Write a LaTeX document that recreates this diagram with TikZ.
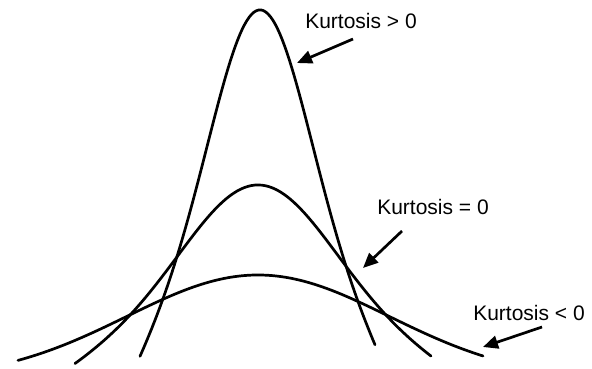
\documentclass[tikz,border=0pt]{standalone}
\usepackage{fontspec}
\setmainfont{Liberation Sans}
\usetikzlibrary{arrows.meta}

\begin{document}
\begin{tikzpicture}[
		x=1pt, y=-1pt,
		curve/.style={line width=2.7pt, line cap=round},
		label/.style={inner sep=0pt, font=\fontsize{21}{25}\selectfont},
		pointer/.style={line width=2.7pt, -{Triangle[length=15pt, width=13pt]}}
		]
		\useasboundingbox (0, 0) rectangle (592, 369);
		% the three curves
		\draw[curve] plot[domain=140:375, samples=100] (\x, {592-203*exp(-0.5*((\x-260)/45)^2)-379*exp(-0.5*((\x-260)/120)^2)});
		\draw[curve] plot[domain=75:431, samples=100] (\x, {495-116*exp(-0.5*((\x-258)/70)^2)-194*exp(-0.5*((\x-258)/200)^2)});
		\draw[curve] plot[domain=18:483, samples=100] (\x, {380-105*exp(-0.5*((\x-258)/131)^2)});
		% labels
		\node at (361, 21) [name=positive, label] {Kurtosis > 0};
		\node at (433, 207) [name=zero, label] {Kurtosis = 0};
		\node at (529, 313) [name=negative, label] {Kurtosis < 0};
		\coordinate (positive tail) at (353, 39);
		\coordinate (positive tip) at (297, 63);
		\coordinate (zero tail) at (402, 231);
		\coordinate (zero tip) at (363, 268);
		\coordinate (negative tail) at (542, 327);
		\coordinate (negative tip) at (483, 347);
		\draw[pointer] (positive tail) -- (positive tip);
		\draw[pointer] (zero tail) -- (zero tip);
		\draw[pointer] (negative tail) -- (negative tip);
	\end{tikzpicture}
\end{document}
